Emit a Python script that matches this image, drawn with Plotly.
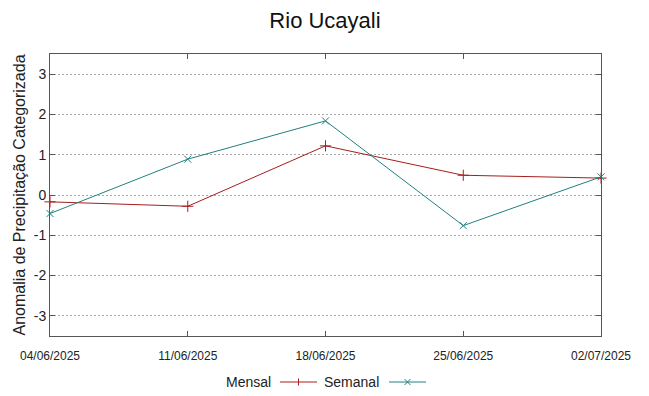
import plotly.graph_objects as go

dates = ["2025-06-04", "2025-06-11", "2025-06-18", "2025-06-25", "2025-07-02"]
tick_labels = ["04/06/2025", "11/06/2025", "18/06/2025", "25/06/2025", "02/07/2025"]
mensal = [-0.17, -0.28, 1.22, 0.49, 0.42]
semanal = [-0.46, 0.89, 1.84, -0.76, 0.45]
y_ticks = [-3, -2, -1, 0, 1, 2, 3]
y_tick_labels = ["-3", "-2", "-1", "0", "1", "2", "3"]

RED = "#a81c1c"
TEAL = "#21807f"
FONT = "Liberation Sans Narrow, Liberation Sans, Arial, sans-serif"

fig = go.Figure()
fig.add_trace(go.Scatter(x=dates, y=mensal, mode="lines+markers", name="Mensal",
                         line=dict(color=RED, width=1),
                         marker=dict(symbol="cross-thin", size=8, color=RED,
                                     line=dict(color=RED, width=1)),
                         showlegend=False, cliponaxis=False))
fig.add_trace(go.Scatter(x=dates, y=semanal, mode="lines+markers", name="Semanal",
                         line=dict(color=TEAL, width=1),
                         marker=dict(symbol="x-thin", size=7, color=TEAL,
                                     line=dict(color=TEAL, width=1)),
                         showlegend=False, cliponaxis=False))

# page body has an 8px margin; the figure is sized/offset to compensate
OFF = 8
W, H = 649 - OFF, 396 - OFF
L, T = 50 - OFF, 54 - OFF
R = 649 - 601
B = 396 - 336

fig.update_layout(
    width=W, height=H,
    margin=dict(l=L, r=R, t=T, b=B, autoexpand=False),
    plot_bgcolor="white", paper_bgcolor="white",
    font=dict(family=FONT, color="#222"),
    title=dict(text="Rio Ucayali", x=(325 - OFF) / W, xanchor="center",
               y=1 - (20 - OFF) / H, yanchor="middle",
               font=dict(size=22, family=FONT, color="#111")),
    xaxis=dict(type="date", range=[dates[0], dates[-1]], tickvals=dates, ticktext=tick_labels,
               ticks="inside", ticklen=5, tickcolor="#555", showgrid=False, zeroline=False,
               showline=True, linecolor="#555", linewidth=1, mirror="ticks", automargin=False,
               ticklabelstandoff=9,
               tickfont=dict(size=12, family=FONT, color="#222")),
    yaxis=dict(range=[-3.5, 3.5], tickvals=y_ticks, ticktext=y_tick_labels, ticks="inside",
               ticklen=5, tickcolor="#555", automargin=False,
               showgrid=True, gridcolor="#a8a8a8", griddash="2px,2px", gridwidth=1, zeroline=False,
               showline=True, linecolor="#555", linewidth=1, mirror="ticks",
               tickfont=dict(size=14, family=FONT, color="#222"),
               title=dict(text="Anomalia de Precipitação Categorizada", standoff=4,
                          font=dict(size=16, family=FONT, color="#222"))),
)

def fx(x):
    return (x - OFF - L) / (W - L - R)

def fy(y):
    return (H - B - (y - OFF)) / (H - T - B)

ly = 382
legend_items = [("Mensal", 273, 280, 317, RED, "+"), ("Semanal", 381, 389, 426, TEAL, "x")]
for name, tx, x0, x1, col, sym in legend_items:
    fig.add_annotation(xref="paper", yref="paper", x=fx(tx), y=fy(ly), text=name,
                       showarrow=False, xanchor="right", yanchor="middle",
                       font=dict(size=14, family=FONT, color="#222"))
    fig.add_shape(type="line", xref="paper", yref="paper", x0=fx(x0), x1=fx(x1),
                  y0=fy(ly), y1=fy(ly), line=dict(color=col, width=1))
    cx = (x0 + x1) / 2
    if sym == "+":
        fig.add_shape(type="line", xref="paper", yref="paper", x0=fx(cx), x1=fx(cx),
                      y0=fy(ly - 3.5), y1=fy(ly + 3.5), line=dict(color=col, width=1))
    else:
        fig.add_shape(type="line", xref="paper", yref="paper", x0=fx(cx - 3), x1=fx(cx + 3),
                      y0=fy(ly - 3), y1=fy(ly + 3), line=dict(color=col, width=1))
        fig.add_shape(type="line", xref="paper", yref="paper", x0=fx(cx - 3), x1=fx(cx + 3),
                      y0=fy(ly + 3), y1=fy(ly - 3), line=dict(color=col, width=1))

fig.write_html("out.html")
